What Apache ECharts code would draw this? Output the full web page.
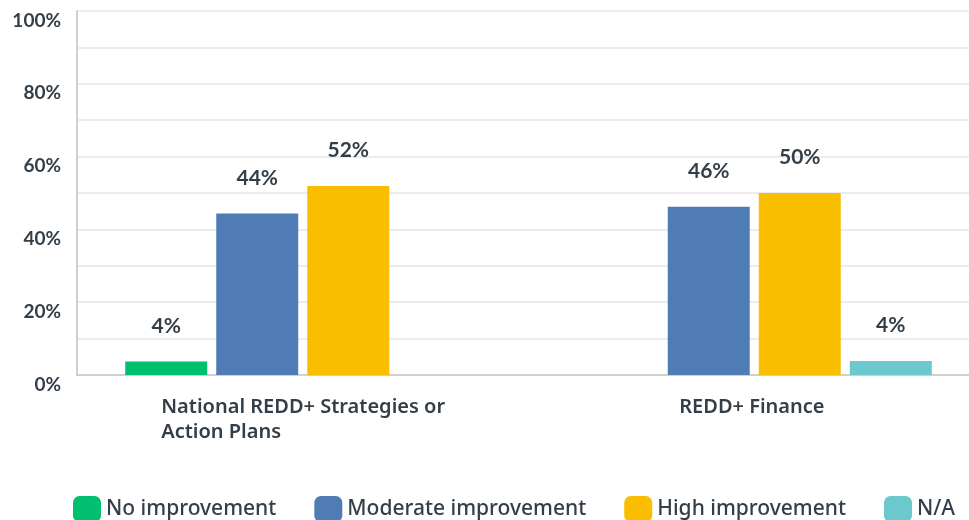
<!DOCTYPE html>
<html>
<head>
<meta charset="utf-8">
<script src="https://cdn.jsdelivr.net/npm/echarts@6/dist/echarts.min.js"></script>
<style>
  html, body { margin: 0; padding: 0; background: #fff; }
  #chart { width: 969px; height: 520px; }
</style>
</head>
<body>
<div id="chart"></div>
<script>
const categories = ["National REDD+ Strategies or\nAction Plans", "REDD+ Finance"];
const seriesNames = ["No improvement", "Moderate improvement", "High improvement", "N/A"];
const noImprovement = [3.7, null];
const moderateImprovement = [44.4, 46.2];
const highImprovement = [51.9, 50];
const notApplicable = [null, 3.85];
const colors = ["#00bf6f", "#507cb6", "#f9be00", "#6bc8cd"];

const myChart = echarts.init(document.getElementById("chart"));

const textColor = "#333e48";

function makeSeries(name, data, color) {
  return {
    name: name,
    type: "bar",
    data: data,
    barWidth: 82,
    barGap: "11%",
    itemStyle: { color: color },
    label: {
      show: true,
      position: "top",
      distance: 25,
      color: textColor,
      fontFamily: "Lato",
      fontWeight: "bold",
      fontSize: 21,
      formatter: (p) => Math.round(p.value) + "%",
    },
  };
}

const labelStyle = {
  color: textColor,
  fontFamily: "Noto Sans",
  fontSize: 20,
  fontWeight: 600,
  lineHeight: 25,
};

const option = {
  animation: false,
  grid: {
    left: 77,
    right: -11,
    top: 11,
    bottom: 145,
    outerBoundsMode: "none",
  },
  legend: {
    data: seriesNames,
    left: 73,
    bottom: -2,
    padding: 0,
    itemWidth: 28,
    itemHeight: 26,
    itemGap: 38,
    icon: "roundRect",
    textStyle: {
      color: textColor,
      fontFamily: "Noto Sans",
      fontSize: 21,
      fontWeight: 500,
    },
  },
  xAxis: {
    type: "category",
    data: categories,
    axisTick: { show: false },
    axisLine: { lineStyle: { color: "#d0d0d0", width: 2 } },
    axisLabel: Object.assign({}, labelStyle, {
      margin: 20,
      formatter: (v, i) => {
        // left-aligned lines inside a centred block
        const lines = v.split("\n");
        const key = i === 0 ? "a" : "b";
        return lines.map((l) => "{" + key + "|" + l + "}").join("\n");
      },
      rich: {
        a: Object.assign({ width: 283, align: "left" }, labelStyle),
        b: Object.assign({ width: 150, align: "left" }, labelStyle),
      },
    }),
  },
  yAxis: {
    type: "value",
    min: 0,
    max: 100,
    interval: 10,
    axisLine: { show: true, lineStyle: { color: "#d0d0d0", width: 2 } },
    axisTick: { show: false },
    splitLine: { lineStyle: { color: "#ececec", width: 2 } },
    axisLabel: {
      margin: 16,
      verticalAlign: "top",
      color: textColor,
      fontFamily: "Lato",
      fontWeight: "bold",
      fontSize: 19,
      formatter: (v) => (v % 20 === 0 ? v + "%" : ""),
    },
  },
  series: [
    makeSeries(seriesNames[0], noImprovement, colors[0]),
    makeSeries(seriesNames[1], moderateImprovement, colors[1]),
    makeSeries(seriesNames[2], highImprovement, colors[2]),
    makeSeries(seriesNames[3], notApplicable, colors[3]),
  ],
};

myChart.setOption(option);
window.addEventListener("resize", myChart.resize);
</script>
</body>
</html>
